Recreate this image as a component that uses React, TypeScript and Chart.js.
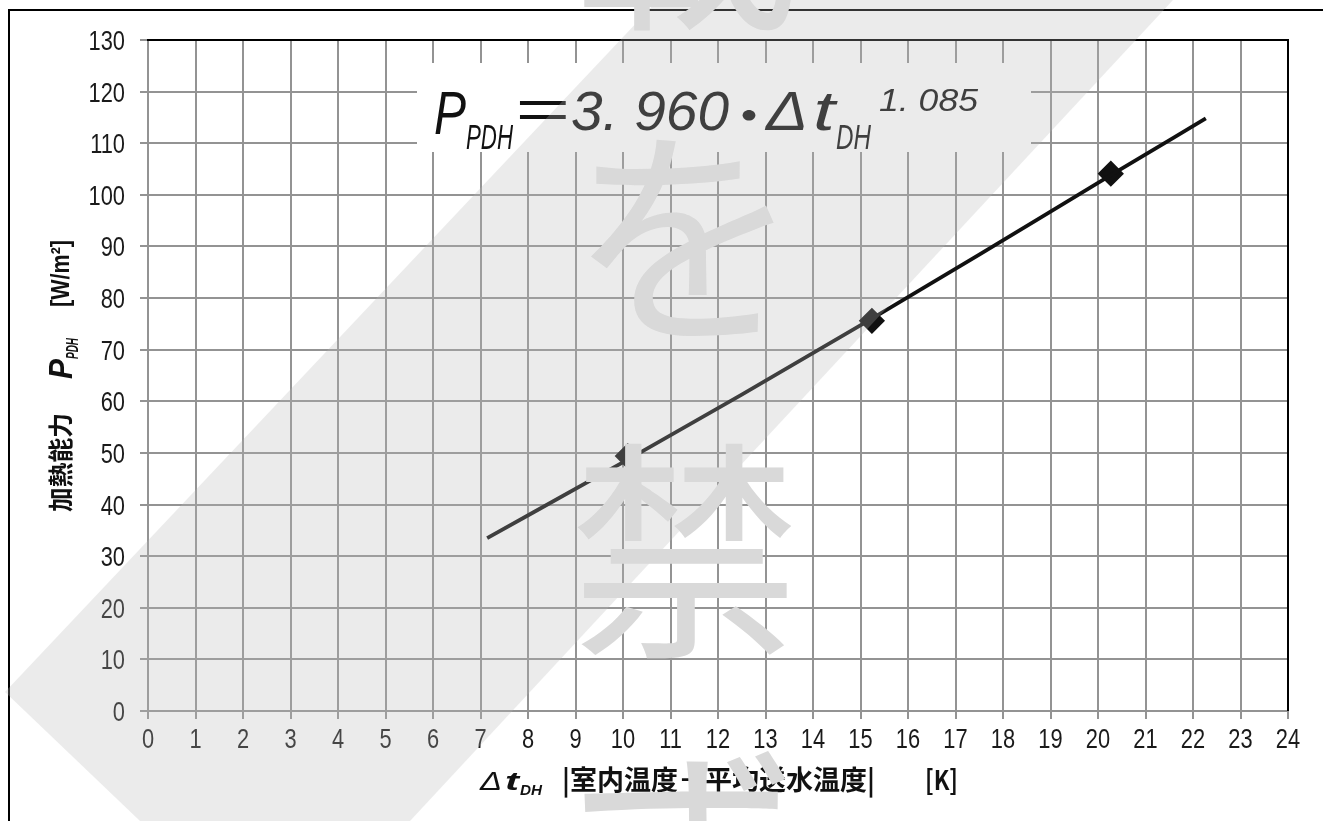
import React, { useEffect, useRef } from 'react';
import { Chart, registerables } from 'chart.js';

Chart.register(...registerables);

// ---- data ----
const curveX = [7.14, 10.1, 12.5, 15.24, 17.5, 20.27, 22.27];
const curveY = [33.5, 48.7, 61.3, 76.0, 88.4, 103.8, 114.8];
const pointX = [10.1, 15.24, 20.27];
const pointY = [49.4, 75.6, 104.1];
const xTicks = [0, 1, 2, 3, 4, 5, 6, 7, 8, 9, 10, 11, 12, 13, 14, 15, 16, 17, 18, 19, 20, 21, 22, 23, 24];
const yTicks = [0, 10, 20, 30, 40, 50, 60, 70, 80, 90, 100, 110, 120, 130];
const watermarkChars = ['載', 'を', '禁', 'ず'];

const SANS = '"Liberation Sans", Arimo, "DejaVu Sans", sans-serif';
const JP = '"Noto Sans CJK JP", "Noto Sans", sans-serif';
const GRID = '#939393';
const INK = '#111111';

type Opt = { width?: number; scale?: number; align?: 'left' | 'center' | 'right' };

function drawText(ctx: CanvasRenderingContext2D, text: string, x: number, y: number, font: string, opt: Opt = {}) {
  ctx.save();
  ctx.font = font;
  ctx.textAlign = opt.align || 'left';
  ctx.textBaseline = 'alphabetic';
  const w = ctx.measureText(text).width;
  const s = opt.width ? opt.width / w : opt.scale || 1;
  ctx.translate(x, y);
  ctx.scale(s, 1);
  ctx.fillText(text, 0, 0);
  ctx.restore();
}

const decorPlugin = {
  id: 'decor',
  afterDatasetsDraw(chart: any) {
    const ctx: CanvasRenderingContext2D = chart.ctx;
    const a = chart.chartArea;
    ctx.save();
    // top and right frame of plot area
    ctx.strokeStyle = '#000';
    ctx.lineWidth = 2;
    ctx.beginPath();
    ctx.moveTo(a.left - 1, a.top);
    ctx.lineTo(a.right, a.top);
    ctx.lineTo(a.right, a.bottom);
    ctx.stroke();

    // equation label box
    ctx.fillStyle = '#ffffff';
    ctx.fillRect(417, 63, 614, 89);
    ctx.fillStyle = INK;
    const eq = (size: number) => `italic 400 ${size}px ${SANS}`;
    drawText(ctx, 'P', 434, 134, eq(62), { width: 32 });
    drawText(ctx, 'PDH', 466, 149, eq(35), { width: 47 });
    drawText(ctx, '=', 514, 128, eq(55), { width: 55 });
    drawText(ctx, '3. 960', 571, 130, eq(55), { width: 158 });
    drawText(ctx, '・', 749, 134, `400 50px ${JP}`, { align: 'center', scale: 1.2 });
    drawText(ctx, 'Δ', 766, 130, eq(55), { width: 42 });
    drawText(ctx, 't', 813, 130, eq(55), { width: 22 });
    drawText(ctx, 'DH', 836, 149, eq(35), { width: 35 });
    drawText(ctx, '1. 085', 879, 111, eq(32), { width: 99 });
    ctx.restore();
  },
  afterDraw(chart: any) {
    const ctx: CanvasRenderingContext2D = chart.ctx;
    const xs = chart.scales.x;
    const ys = chart.scales.y;
    ctx.save();
    ctx.fillStyle = '#1a1a1a';
    // tick labels (narrow, as in the reference)
    const tickFont = `400 28px ${SANS}`;
    xTicks.forEach((v) => {
      drawText(ctx, String(v), xs.getPixelForValue(v), 748, tickFont, { align: 'center', scale: 0.78 });
    });
    yTicks.forEach((v) => {
      drawText(ctx, String(v), 125, ys.getPixelForValue(v) + 10, tickFont, { align: 'right', scale: 0.78 });
    });

    ctx.fillStyle = INK;
    // x axis title
    drawText(ctx, 'Δ', 480, 790, `italic 400 25px ${SANS}`, { width: 22 });
    drawText(ctx, 't', 505, 790, `italic 700 25px ${SANS}`, { width: 14 });
    drawText(ctx, 'DH', 520, 795, `italic 700 15px ${SANS}`, { width: 22 });
    drawText(ctx, '|室内温度－平均送水温度|', 562, 790, `700 27px ${JP}`);
    drawText(ctx, '[K]', 925, 790, `700 27px ${JP}`, { width: 33 });

    // y axis title (rotated)
    ctx.save();
    ctx.translate(60, 0);
    ctx.rotate(-Math.PI / 2);
    drawText(ctx, '加熱能力', -512, 9.5, `700 25px ${JP}`, { width: 99 });
    drawText(ctx, 'P', -379, 12, `italic 700 33px ${SANS}`, { width: 20 });
    drawText(ctx, 'PDH', -359, 18, `italic 700 16px ${SANS}`, { width: 21 });
    drawText(ctx, '[W/m²]', -307, 9, `700 25px ${SANS}`, { width: 67 });
    ctx.restore();

    // watermark band
    ctx.fillStyle = 'rgba(183,183,183,0.28)';
    ctx.beginPath();
    ctx.moveTo(658, 0);
    ctx.lineTo(1173, 0);
    ctx.lineTo(410, 821);
    ctx.lineTo(140, 821);
    ctx.lineTo(5, 692);
    ctx.closePath();
    ctx.fill();

    // watermark characters
    ctx.fillStyle = '#d9d9d9';
    ctx.font = `400 232px ${JP}`;
    ctx.textAlign = 'center';
    ctx.textBaseline = 'alphabetic';
    const centers = [-77, 237, 551, 855];
    watermarkChars.forEach((c, i) => {
      ctx.fillText(c, 685, centers[i] + 0.38 * 232);
    });
    ctx.restore();
  },
};

export default function App() {
  const ref = useRef<HTMLCanvasElement>(null);
  useEffect(() => {
    const chart = new Chart(ref.current!, {
      type: 'scatter',
      data: {
        datasets: [
          {
            label: 'curve',
            data: curveX.map((x, i) => ({ x, y: curveY[i] })),
            showLine: true,
            borderColor: INK,
            backgroundColor: INK,
            borderWidth: 3.8,
            pointRadius: 0,
            cubicInterpolationMode: 'monotone',
          },
          {
            label: 'points',
            data: pointX.map((x, i) => ({ x, y: pointY[i] })),
            showLine: false,
            pointStyle: 'rectRot',
            pointRadius: 11,
            borderWidth: 3,
            borderColor: INK,
            backgroundColor: INK,
          },
        ],
      } as any,
      options: {
        responsive: false,
        animation: false,
        devicePixelRatio: 1,
        layout: { padding: { left: 0, right: 35, top: 40, bottom: 0 } },
        plugins: {
          legend: { display: false },
          tooltip: { enabled: false },
          title: { display: false },
        },
        scales: {
          x: {
            type: 'linear',
            min: 0,
            max: 24,
            afterFit(s: any) { s.height = 110; },
            afterBuildTicks(s: any) { s.ticks = xTicks.map((v) => ({ value: v })); },
            ticks: { display: false },
            grid: { color: GRID, lineWidth: 2, tickLength: 8, drawTicks: true, tickColor: GRID },
            border: { color: GRID, width: 2 },
          },
          y: {
            type: 'linear',
            min: 0,
            max: 130,
            afterFit(s: any) { s.width = 148; },
            afterBuildTicks(s: any) { s.ticks = yTicks.map((v) => ({ value: v })); },
            ticks: { display: false },
            grid: { color: GRID, lineWidth: 2, tickLength: 8, drawTicks: true, tickColor: GRID },
            border: { color: GRID, width: 2 },
          },
        },
      } as any,
      plugins: [decorPlugin],
    });
    return () => chart.destroy();
  }, []);

  return (
    <div style={{ position: 'fixed', left: 0, top: 0, width: 1323, height: 821, overflow: 'hidden', background: '#fff' }}>
      <div style={{ position: 'absolute', left: 8, top: 9, width: 1400, height: 900, border: '2px solid #000', boxSizing: 'border-box' }} />
      <canvas ref={ref} width={1323} height={821} style={{ position: 'absolute', left: 0, top: 0, width: 1323, height: 821 }} />
    </div>
  );
}
